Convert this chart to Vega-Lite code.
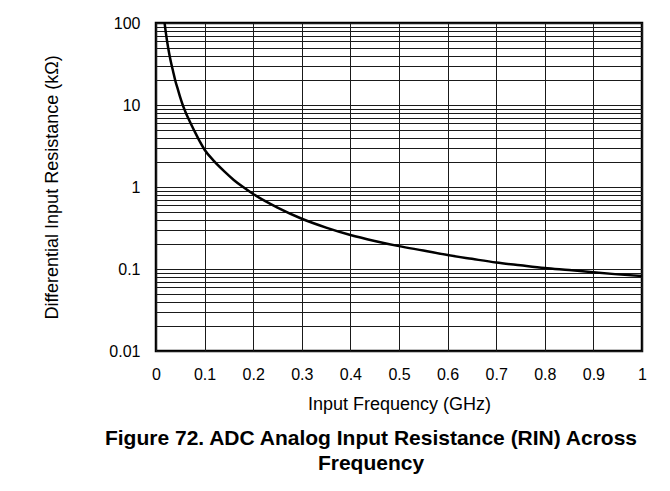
{
  "$schema": "https://vega.github.io/schema/vega-lite/v6.json",
  "width": 486,
  "height": 328,
  "autosize": "none",
  "padding": {"left": 156, "top": 23, "right": 28, "bottom": 140},
  "background": "white",
  "config": {
    "font": "Liberation Sans",
    "view": {"stroke": "black", "strokeWidth": 2.5},
    "axis": {"gridColor": "#1a1a1a", "gridOpacity": 1, "gridWidth": 1, "domain": false, "ticks": false, "labelColor": "black", "titleColor": "black", "labelFont": "Liberation Sans", "titleFont": "Liberation Sans", "titleFontWeight": "normal"}
  },
  "title": {
    "text": ["Figure 72. ADC Analog Input Resistance (RIN) Across", "Frequency"],
    "orient": "bottom",
    "anchor": "middle",
    "frame": "group",
    "dx": -28,
    "offset": 15,
    "fontSize": 21,
    "fontWeight": "bold",
    "lineHeight": 25,
    "color": "black",
    "font": "Liberation Sans"
  },
  "data": {
    "values": [
      {"f": 0.0177, "r": 100},
      {"f": 0.02, "r": 78},
      {"f": 0.025, "r": 50},
      {"f": 0.03, "r": 35},
      {"f": 0.035, "r": 26},
      {"f": 0.04, "r": 19.5},
      {"f": 0.045, "r": 15.5},
      {"f": 0.05, "r": 12.3},
      {"f": 0.055, "r": 10},
      {"f": 0.06, "r": 8.4},
      {"f": 0.07, "r": 6.2},
      {"f": 0.08, "r": 4.7},
      {"f": 0.09, "r": 3.6},
      {"f": 0.1, "r": 2.85},
      {"f": 0.12, "r": 2.05},
      {"f": 0.14, "r": 1.56},
      {"f": 0.16, "r": 1.22},
      {"f": 0.18, "r": 0.99},
      {"f": 0.2, "r": 0.82},
      {"f": 0.25, "r": 0.56},
      {"f": 0.3, "r": 0.41},
      {"f": 0.35, "r": 0.32},
      {"f": 0.4, "r": 0.26},
      {"f": 0.45, "r": 0.22},
      {"f": 0.5, "r": 0.19},
      {"f": 0.55, "r": 0.168},
      {"f": 0.6, "r": 0.148},
      {"f": 0.65, "r": 0.133},
      {"f": 0.7, "r": 0.12},
      {"f": 0.75, "r": 0.111},
      {"f": 0.8, "r": 0.103},
      {"f": 0.85, "r": 0.097},
      {"f": 0.9, "r": 0.091},
      {"f": 0.95, "r": 0.086},
      {"f": 1.0, "r": 0.082}
    ]
  },
  "mark": {"type": "line", "color": "black", "strokeWidth": 2.5, "interpolate": "monotone", "clip": true},
  "encoding": {
    "x": {
      "field": "f",
      "type": "quantitative",
      "scale": {"domain": [0, 1], "nice": false},
      "axis": {
        "values": [0, 0.1, 0.2, 0.3, 0.4, 0.5, 0.6, 0.7, 0.8, 0.9, 1],
        "format": "~g",
        "title": "Input Frequency (GHz)",
        "labelFontSize": 16,
        "labelPadding": 15,
        "titleFontSize": 18,
        "titlePadding": 13,
        "labelFlush": false
      }
    },
    "y": {
      "field": "r",
      "type": "quantitative",
      "scale": {"type": "log", "domain": [0.01, 100], "nice": false},
      "axis": {
        "values": [0.01, 0.02, 0.03, 0.04, 0.05, 0.06, 0.07, 0.08, 0.09, 0.1, 0.2, 0.3, 0.4, 0.5, 0.6, 0.7, 0.8, 0.9, 1, 2, 3, 4, 5, 6, 7, 8, 9, 10, 20, 30, 40, 50, 60, 70, 80, 90, 100],
        "labelExpr": "indexof([0.01, 0.1, 1, 10, 100], datum.value) >= 0 ? format(datum.value, '~g') : ''",
        "title": "Differential Input Resistance (kΩ)",
        "labelFontSize": 16,
        "labelPadding": 16,
        "titleFontSize": 18,
        "titlePadding": 47,
        "labelFlush": false,
        "labelOverlap": false
      }
    }
  }
}
